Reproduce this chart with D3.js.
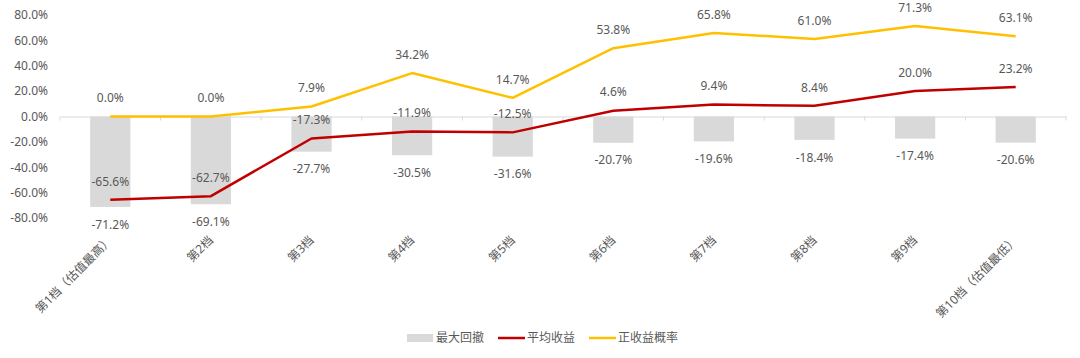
<!DOCTYPE html>
<html>
<head>
<meta charset="utf-8">
<script src="https://cdn.jsdelivr.net/npm/d3@7"></script>
<style>
  html, body { margin: 0; padding: 0; background: #fff; }
  svg { display: block; }
  text { font-family: "Noto Sans", "Noto Sans CJK SC", sans-serif; font-size: 12px; fill: #595959; }
</style>
</head>
<body>
<svg id="chart" width="1080" height="358"></svg>
<script>
const categories = ["第1档（估值最高）", "第2档", "第3档", "第4档", "第5档", "第6档", "第7档", "第8档", "第9档", "第10档（估值最低）"];
const maxDrawdown = [-71.2, -69.1, -27.7, -30.5, -31.6, -20.7, -19.6, -18.4, -17.4, -20.6];
const avgReturn = [-65.6, -62.7, -17.3, -11.9, -12.5, 4.6, 9.4, 8.4, 20.0, 23.2];
const posProb = [0.0, 0.0, 7.9, 34.2, 14.7, 53.8, 65.8, 61.0, 71.3, 63.1];
const yTicks = [-80, -60, -40, -20, 0, 20, 40, 60, 80];
const seriesNames = ["最大回撤", "平均收益", "正收益概率"];

const colors = { bar: "#d9d9d9", red: "#c00000", yellow: "#ffc000", axis: "#d9d9d9" };

const svg = d3.select("#chart");
const x = d3.scaleBand().domain(categories).range([60, 1066]).padding(0);
const y = d3.scaleLinear().domain([-80, 80]).range([218.1, 14.9]);
const cx = c => x(c) + x.bandwidth() / 2;
const fmt = v => v.toFixed(1) + "%";

// Y axis (labels only)
const yAxis = d3.axisLeft(y).tickValues(yTicks).tickFormat(fmt).tickSize(0).tickPadding(3);
const gy = svg.append("g").attr("transform", "translate(51,0)").call(yAxis);
gy.select(".domain").remove();
gy.selectAll("text").attr("fill", "#595959").style("font-size", "12px").style("font-family", '"Noto Sans", "Noto Sans CJK SC", sans-serif');

// Bars
const barW = x.bandwidth() * 0.4;
svg.append("g").selectAll("rect").data(categories).join("rect")
  .attr("x", c => cx(c) - barW / 2)
  .attr("width", barW)
  .attr("y", (c, i) => Math.min(y(0), y(maxDrawdown[i])))
  .attr("height", (c, i) => Math.abs(y(maxDrawdown[i]) - y(0)))
  .attr("fill", colors.bar);

// Zero axis line with category boundary ticks
const xAxis = d3.axisBottom(x).tickSize(0).tickFormat("");
const gx = svg.append("g").attr("transform", `translate(0,${y(0)})`).call(xAxis);
gx.select(".domain").attr("stroke", colors.axis);
gx.selectAll(".tick").remove();
const bounds = categories.map(c => x(c)).concat([x.range()[1]]);
gx.selectAll("line.bound").data(bounds).join("line").attr("class", "bound")
  .attr("x1", d => d).attr("x2", d => d).attr("y1", 0).attr("y2", 4)
  .attr("stroke", colors.axis);

// Lines
const line = d3.line().x((d, i) => cx(categories[i])).y(d => y(d));
svg.append("path").datum(avgReturn).attr("d", line).attr("fill", "none")
  .attr("stroke", colors.red).attr("stroke-width", 2.5).attr("stroke-linejoin", "round");
svg.append("path").datum(posProb).attr("d", line).attr("fill", "none")
  .attr("stroke", colors.yellow).attr("stroke-width", 2.5).attr("stroke-linejoin", "round");

// Data labels
const labels = svg.append("g").attr("text-anchor", "middle");
labels.selectAll("text.bar").data(maxDrawdown).join("text").attr("class", "bar")
  .attr("x", (d, i) => cx(categories[i])).attr("y", d => y(d) + 17.5).attr("dy", "0.35em").text(fmt);
labels.selectAll("text.red").data(avgReturn).join("text").attr("class", "red")
  .attr("x", (d, i) => cx(categories[i])).attr("y", d => y(d) - 18.5).attr("dy", "0.35em").text(fmt);
labels.selectAll("text.yel").data(posProb).join("text").attr("class", "yel")
  .attr("x", (d, i) => cx(categories[i])).attr("y", d => y(d) - 18.5).attr("dy", "0.35em").text(fmt);

// X category labels, rotated
svg.append("g").selectAll("text").data(categories).join("text")
  .attr("transform", c => `translate(${cx(c)},238) rotate(-45)`)
  .attr("text-anchor", "end").attr("dy", "0.35em").text(c => c);

// Legend
const lg = svg.append("g").attr("transform", "translate(0,338)");
const items = [
  { name: seriesNames[0], type: "rect", color: colors.bar, x: 407 },
  { name: seriesNames[1], type: "line", color: colors.red, x: 498 },
  { name: seriesNames[2], type: "line", color: colors.yellow, x: 589 }
];
items.forEach(it => {
  if (it.type === "rect") {
    lg.append("rect").attr("x", it.x).attr("y", -4).attr("width", 26).attr("height", 8).attr("fill", it.color);
  } else {
    lg.append("line").attr("x1", it.x).attr("x2", it.x + 27).attr("y1", 0).attr("y2", 0)
      .attr("stroke", it.color).attr("stroke-width", 2.5);
  }
  lg.append("text").attr("x", it.x + 29).attr("y", 0).attr("dy", "0.35em").text(it.name);
});
</script>
</body>
</html>
